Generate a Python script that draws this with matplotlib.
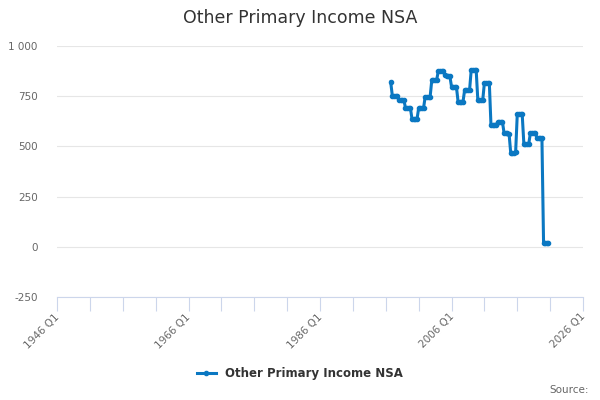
import matplotlib
matplotlib.use("Agg")
import matplotlib.pyplot as plt
import matplotlib.transforms as mtransforms
from matplotlib.ticker import FuncFormatter, FixedLocator

# Quarter labels (categories)
years = list(range(1996, 2021))
quarters = [f"{y} Q{q}" for y in years for q in range(1, 5)
            if not (y == 1996 and q < 4)]

# Quarterly values
values = [
    820,                      # 1996 Q4
    752, 752, 752, 752,       # 1997
    733, 733, 732, 731,       # 1998
    692, 692, 691, 690,       # 1999
    635, 635, 635, 635,       # 2000
    690, 690, 691, 692,       # 2001
    748, 748, 748, 748,       # 2002
    830, 830, 831, 832,       # 2003
    877, 877, 877, 877,       # 2004
    855, 853, 851, 849,       # 2005
    798, 797, 796, 795,       # 2006
    723, 723, 723, 723,       # 2007
    782, 782, 782, 782,       # 2008
    882, 882, 881, 880,       # 2009
    731, 731, 731, 731,       # 2010
    816, 816, 816, 816,       # 2011
    607, 607, 606, 605,       # 2012
    620, 620, 620, 620,       # 2013
    566, 566, 565, 564,       # 2014
    469, 469, 469, 470,       # 2015
    660, 660, 660, 660,       # 2016
    514, 514, 514, 514,       # 2017
    567, 567, 567, 567,       # 2018
    543, 543, 543, 543,       # 2019
    18, 18, 17, 17,           # 2020
]

series_name = "Other Primary Income NSA"
x_tick_labels = ["1946 Q1", "1966 Q1", "1986 Q1", "2006 Q1", "2026 Q1"]
y_ticks = [-250, 0, 250, 500, 750, 1000]


def q_to_num(label):
    y, q = label.split(" Q")
    return int(y) + (int(q) - 1) / 4.0


xs = [q_to_num(s) for s in quarters]

plt.rcParams['font.family'] = ['DejaVu Sans']
fig = plt.figure(figsize=(6, 4), dpi=100)
ax = fig.add_axes([0.095, 0.2575, 0.8767, 0.6275])

color = "#0b78c2"
ax.plot(xs, values, color=color, lw=2.2, marker="o", ms=3,
        label=series_name, zorder=3)

x0 = q_to_num(x_tick_labels[0])
x1 = q_to_num(x_tick_labels[-1])
ax.set_xlim(x0, x1)
ax.set_ylim(y_ticks[0], y_ticks[-1])

ax.set_yticks(y_ticks)
ax.yaxis.set_major_formatter(FuncFormatter(lambda v, p: f"{int(v):,}".replace(",", " ")))
ax.grid(axis="y", color="#e6e6e6", lw=0.8, zorder=0)
ax.tick_params(axis="y", length=0, labelsize=7.5, labelcolor="#666666", pad=14)

ax.set_xticks([q_to_num(s) for s in x_tick_labels])
ax.set_xticklabels(x_tick_labels, rotation=45, ha="right", rotation_mode="anchor")
ax.xaxis.set_minor_locator(FixedLocator([x0 + 5 * i for i in range(17)]))
ax.tick_params(axis="x", which="both", length=10, width=0.8, color="#ccd6eb",
               labelsize=7.5, labelcolor="#666666", pad=2)
offset = mtransforms.ScaledTranslation(-3 / 100, 2 / 100, fig.dpi_scale_trans)
for lbl in ax.get_xticklabels():
    lbl.set_transform(lbl.get_transform() + offset)

for s in ["top", "right", "left"]:
    ax.spines[s].set_visible(False)
ax.spines["bottom"].set_color("#ccd6eb")
ax.spines["bottom"].set_linewidth(0.8)

fig.text(0.5, 0.955, series_name, ha="center", va="center",
         fontsize=12.5, color="#333333")

leg = fig.legend(loc="center", bbox_to_anchor=(0.5, 0.067), frameon=False,
                 handlelength=1.6, prop={"weight": "bold", "size": 8.5})
for t in leg.get_texts():
    t.set_color("#333333")

fig.text(0.982, 0.025, "Source:", ha="right", va="center",
         fontsize=7.5, color="#666666")

fig.savefig("out.png", dpi=100)
